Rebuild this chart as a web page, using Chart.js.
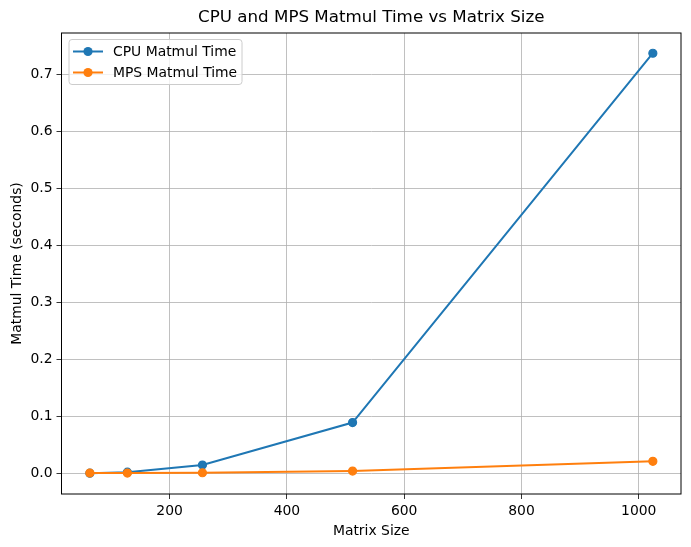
<!DOCTYPE html>
<html>
<head>
<meta charset="utf-8">
<script src="https://cdn.jsdelivr.net/npm/chart.js@4"></script>
<style>
  html, body { margin: 0; padding: 0; background: #fff; }
  #wrap { width: 691px; height: 547px; }
</style>
</head>
<body>
<div id="wrap"><canvas id="chart" width="691" height="547"></canvas></div>
<script>
// data
const matrixSizes = [64, 128, 256, 512, 1024];
const cpuTimes = [0.0003, 0.002, 0.0145, 0.089, 0.737];
const mpsTimes = [0.0005, 0.0004, 0.001, 0.004, 0.021];
const xTicks = [200, 400, 600, 800, 1000];
const yTicks = [0, 0.1, 0.2, 0.3, 0.4, 0.5, 0.6, 0.7];
const chartTitle = 'CPU and MPS Matmul Time vs Matrix Size';

const FONT = "'DejaVu Sans', sans-serif";
const BLUE = '#1f77b4';
const ORANGE = '#ff7f0e';

function toPoints(ys) {
    return matrixSizes.map((x, i) => ({ x: x, y: ys[i] }));
}

// frame around the plot area, like matplotlib's spines
const framePlugin = {
    id: 'frame',
    afterDatasetsDraw(chart) {
        const a = chart.chartArea;
        const ctx = chart.ctx;
        ctx.save();
        ctx.strokeStyle = '#000';
        ctx.lineWidth = 1;
        ctx.strokeRect(a.left, a.top, a.right - a.left, a.bottom - a.top);
        ctx.restore();
    }
};

// title centred over the axes rather than the whole canvas
const axesTitle = {
    id: 'axesTitle',
    afterDraw(chart) {
        const a = chart.chartArea;
        const ctx = chart.ctx;
        ctx.save();
        ctx.fillStyle = '#000';
        ctx.font = '16.7px ' + FONT;
        ctx.textAlign = 'center';
        ctx.textBaseline = 'middle';
        ctx.fillText(chartTitle, (a.left + a.right) / 2, a.top - 15);
        ctx.restore();
    }
};

// legend drawn inside the axes, upper left
const insideLegend = {
    id: 'insideLegend',
    afterDraw(chart) {
        const a = chart.chartArea;
        const ctx = chart.ctx;
        const x0 = a.left + 7.5, y0 = a.top + 6.5;
        const w = 173, h = 45;
        ctx.save();
        ctx.fillStyle = 'rgba(255,255,255,0.8)';
        ctx.strokeStyle = '#cccccc';
        ctx.lineWidth = 1;
        ctx.beginPath();
        ctx.roundRect(x0, y0, w, h, 3);
        ctx.fill();
        ctx.stroke();
        chart.data.datasets.forEach((ds, i) => {
            const yy = y0 + 12 + i * 21;
            ctx.strokeStyle = ds.borderColor;
            ctx.lineWidth = 2;
            ctx.beginPath();
            ctx.moveTo(x0 + 4, yy);
            ctx.lineTo(x0 + 34, yy);
            ctx.stroke();
            ctx.fillStyle = ds.borderColor;
            ctx.beginPath();
            ctx.arc(x0 + 19, yy, 4.6, 0, Math.PI * 2);
            ctx.fill();
            ctx.fillStyle = '#000';
            ctx.font = '13.9px ' + FONT;
            ctx.textBaseline = 'middle';
            ctx.fillText(ds.label, x0 + 44, yy + 1);
        });
        ctx.restore();
    }
};

new Chart(document.getElementById('chart'), {
    type: 'line',
    data: {
        datasets: [
            {
                label: 'CPU Matmul Time',
                data: toPoints(cpuTimes),
                borderColor: BLUE,
                backgroundColor: BLUE,
                borderWidth: 2,
                pointRadius: 4,
                pointHoverRadius: 4,
                pointBorderWidth: 1.2,
                pointBorderColor: BLUE,
                tension: 0,
                order: 1
            },
            {
                label: 'MPS Matmul Time',
                data: toPoints(mpsTimes),
                borderColor: ORANGE,
                backgroundColor: ORANGE,
                borderWidth: 2,
                pointRadius: 4,
                pointHoverRadius: 4,
                pointBorderWidth: 1.2,
                pointBorderColor: ORANGE,
                tension: 0,
                order: 0
            }
        ]
    },
    options: {
        responsive: false,
        animation: false,
        layout: { padding: { left: 0, right: 10, top: 33, bottom: 0 } },
        plugins: {
            legend: { display: false },
            tooltip: { enabled: false },
            title: { display: false }
        },
        scales: {
            x: {
                type: 'linear',
                min: 15.7,
                max: 1072,
                afterBuildTicks(scale) {
                    scale.ticks = xTicks.map(v => ({ value: v }));
                },
                afterFit(scale) { scale.height = 53; },
                grid: {
                    color: '#b0b0b0',
                    lineWidth: 0.8,
                    tickColor: '#000',
                    tickLength: 5,
                    drawTicks: true
                },
                border: { display: false },
                ticks: {
                    color: '#000',
                    font: { family: FONT, size: 13.9 },
                    padding: 4,
                    maxRotation: 0,
                    callback: v => String(v)
                },
                title: {
                    display: true,
                    text: 'Matrix Size',
                    color: '#000',
                    font: { family: FONT, size: 13.9 },
                    padding: { top: 0, bottom: 7 }
                }
            },
            y: {
                type: 'linear',
                min: -0.0363,
                max: 0.7725,
                afterBuildTicks(scale) {
                    scale.ticks = yTicks.map(v => ({ value: v }));
                },
                afterFit(scale) { scale.width = 61.5; },
                grid: {
                    color: '#b0b0b0',
                    lineWidth: 0.8,
                    tickColor: '#000',
                    tickLength: 5,
                    drawTicks: true
                },
                border: { display: false },
                ticks: {
                    color: '#000',
                    font: { family: FONT, size: 13.9 },
                    padding: 4,
                    callback: v => v.toFixed(1)
                },
                title: {
                    display: true,
                    text: 'Matmul Time (seconds)',
                    color: '#000',
                    font: { family: FONT, size: 13.9 },
                    padding: { top: 9, bottom: 0 }
                }
            }
        }
    },
    plugins: [framePlugin, axesTitle, insideLegend]
});
</script>
</body>
</html>
